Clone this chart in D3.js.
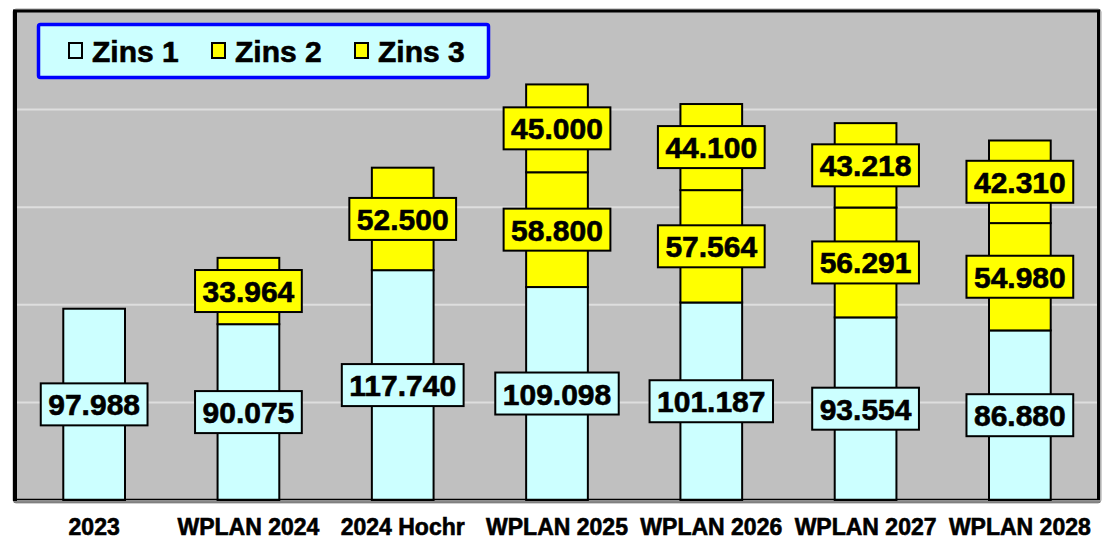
<!DOCTYPE html>
<html>
<head>
<meta charset="utf-8">
<script src="https://cdn.jsdelivr.net/npm/d3@7"></script>
<style>
  body { margin: 0; background: white; }
  text { font-family: "Liberation Sans", Arial, sans-serif; font-weight: bold; stroke: black; stroke-width: 0.6px; }
</style>
</head>
<body>
<div id="chart"></div>
<script>
const categories = ["2023", "WPLAN 2024", "2024 Hochr", "WPLAN 2025", "WPLAN 2026", "WPLAN 2027", "WPLAN 2028"];
const zins1 = [97.988, 90.075, 117.740, 109.098, 101.187, 93.554, 86.880];
const zins2 = [0, 33.964, 52.500, 58.800, 57.564, 56.291, 54.980];
const zins3 = [0, 0, 0, 45.000, 44.100, 43.218, 42.310];
const seriesNames = ["Zins 1", "Zins 2", "Zins 3"];
const seriesColors = ["#CCFFFF", "#FFFF00", "#FFFF00"];
const yTicks = [50, 100, 150, 200];

const width = 1103;
const height = 540;
const plot = { left: 17, right: 1097, top: 12, bottom: 500 };

const svg = d3.select("#chart")
  .append("svg")
  .attr("width", width)
  .attr("height", height);

const x = d3.scaleBand()
  .domain(categories)
  .range([plot.left, plot.right])
  .paddingInner(0.6)
  .paddingOuter(0.3);

const y = d3.scaleLinear().domain([0, 250]).range([plot.bottom, plot.top]);

const fmt = (v) => v.toFixed(3);

// plot background + frame shadow
svg.append("rect")
  .attr("x", plot.left - 4).attr("y", plot.top - 3)
  .attr("width", plot.right - plot.left + 8).attr("height", plot.bottom - plot.top + 6)
  .attr("rx", 3)
  .attr("fill", "#C0C0C0")
  .attr("stroke", "#A0A0A0")
  .attr("stroke-width", 1);

// gridlines
svg.append("g")
  .selectAll("line")
  .data(yTicks)
  .join("line")
  .attr("x1", plot.left).attr("x2", plot.right)
  .attr("y1", (d) => y(d)).attr("y2", (d) => y(d))
  .attr("stroke", "#DEDEDE")
  .attr("stroke-width", 2);

// stacked data
const rows = categories.map((c, i) => ({ cat: c, vals: [zins1[i], zins2[i], zins3[i]] }));
const stack = d3.stack().keys([0, 1, 2]).value((d, k) => d.vals[k]);
const layers = stack(rows);

const bars = svg.append("g");
layers.forEach((layer, k) => {
  bars.selectAll(null)
    .data(layer.filter((d) => d[1] - d[0] > 0))
    .join("rect")
    .attr("x", (d) => x(d.data.cat))
    .attr("width", x.bandwidth())
    .attr("y", (d) => y(d[1]))
    .attr("height", (d) => y(d[0]) - y(d[1]))
    .attr("fill", seriesColors[k])
    .attr("stroke", "black")
    .attr("stroke-width", 2);
});

// value labels
const labels = svg.append("g");
layers.forEach((layer, k) => {
  layer.filter((d) => d[1] - d[0] > 0).forEach((d) => {
    const cx = x(d.data.cat) + x.bandwidth() / 2;
    const cy = (y(d[0]) + y(d[1])) / 2;
    const g = labels.append("g");
    const box = g.append("rect")
      .attr("fill", seriesColors[k])
      .attr("stroke", "black")
      .attr("stroke-width", 2);
    const t = g.append("text")
      .attr("x", cx)
      .attr("y", cy + 11)
      .attr("text-anchor", "middle")
      .style("font-size", "30px")
      .attr("fill", "black")
      .text(fmt(d[1] - d[0]));
    const w = t.node().getComputedTextLength() + 15;
    box.attr("x", cx - w / 2).attr("y", cy - 21).attr("width", w).attr("height", 42);
  });
});

// frame lines
svg.append("line")
  .attr("x1", plot.left - 2).attr("x2", plot.left - 2)
  .attr("y1", plot.top - 2).attr("y2", plot.bottom + 1)
  .attr("stroke", "black").attr("stroke-width", 4);
svg.append("line")
  .attr("x1", plot.left - 4).attr("x2", plot.right + 3)
  .attr("y1", plot.top - 1).attr("y2", plot.top - 1)
  .attr("stroke", "black").attr("stroke-width", 3);
svg.append("line")
  .attr("x1", plot.right + 1.5).attr("x2", plot.right + 1.5)
  .attr("y1", plot.top - 2).attr("y2", plot.bottom)
  .attr("stroke", "black").attr("stroke-width", 3);
svg.append("line")
  .attr("x1", plot.left - 4).attr("x2", plot.right + 3)
  .attr("y1", plot.bottom - 0.5).attr("y2", plot.bottom - 0.5)
  .attr("stroke", "black").attr("stroke-width", 1.5);
svg.append("line")
  .attr("x1", plot.left - 3).attr("x2", plot.right + 3)
  .attr("y1", plot.bottom + 2).attr("y2", plot.bottom + 2)
  .attr("stroke", "#505050").attr("stroke-width", 1);

// x axis labels
svg.append("g")
  .selectAll("text")
  .data(categories)
  .join("text")
  .attr("x", (d) => x(d) + x.bandwidth() / 2)
  .attr("y", 535)
  .attr("text-anchor", "middle")
  .style("font-size", "23px")
  .attr("fill", "black")
  .text((d) => d);

// legend
const legend = svg.append("g");
legend.append("rect")
  .attr("x", 38.5).attr("y", 24.5)
  .attr("width", 450).attr("height", 53)
  .attr("rx", 2)
  .attr("fill", "#CCFFFF")
  .attr("stroke", "#0000FF")
  .attr("stroke-width", 3.5);

const items = legend.selectAll("g")
  .data(seriesNames)
  .join("g")
  .attr("transform", (d, i) => `translate(${68 + i * 143},0)`);

items.append("rect")
  .attr("x", 1).attr("y", 43)
  .attr("width", 13).attr("height", 15)
  .attr("fill", (d, i) => seriesColors[i])
  .attr("stroke", "black")
  .attr("stroke-width", 2);

items.append("text")
  .attr("x", 24)
  .attr("y", 62)
  .style("font-size", "30px")
  .attr("fill", "black")
  .text((d) => d);
</script>
</body>
</html>
